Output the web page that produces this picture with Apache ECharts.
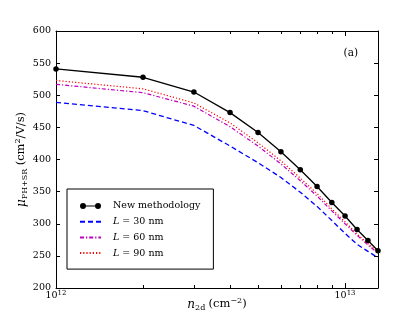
<!DOCTYPE html>
<html>
<head>
<meta charset="utf-8">
<script src="https://cdn.jsdelivr.net/npm/echarts@6/dist/echarts.min.js"></script>
<style>html,body{margin:0;padding:0;background:#fff}#c{width:415px;height:312px}</style>
</head>
<body>
<div id="c"></div>
<script>
// ---- data ----
const nValues = [1e12, 2e12, 3e12, 4e12, 5e12, 6e12, 7e12, 8e12, 9e12, 1e13, 1.1e13, 1.2e13, 1.3e13];
const newMethod = [541, 528, 505, 473, 442, 412, 384, 358, 333, 312, 291, 274, 258];
const L30 = [489, 476, 453, 421, 395, 372, 349, 327, 305, 285, 268, 257, 247];
const L60 = [517, 504, 483, 451, 421, 393, 367, 343, 320, 300, 282, 267, 254];
const L90 = [523, 510, 488, 457, 426, 398, 371, 347, 323, 303, 284, 269, 256];
const xMajorTicks = [1e12, 1e13];
const xMinorTicks = [2e12, 3e12, 4e12, 5e12, 6e12, 7e12, 8e12, 9e12];
const yTicks = [200, 250, 300, 350, 400, 450, 500, 550, 600];
const seriesNames = ['New methodology', 'L = 30 nm', 'L = 60 nm', 'L = 90 nm'];

const FONT = 'DejaVu Serif';
const pair = a => nValues.map((x, i) => [x, a[i]]);

const xBase = (pos, showLabel, ticks, len) => ({
  type: 'log', logBase: 10, min: 1e12, max: 1.3e13, position: pos,
  axisLine: { show: showLabel, lineStyle: { color: '#000', width: 1 } },
  axisTick: { show: true, inside: true, length: len, customValues: ticks, lineStyle: { color: '#000', width: 1 } },
  axisLabel: showLabel ? {
    show: true, customValues: xMajorTicks, margin: 2,
    formatter: v => '{b|10}{s|' + Math.round(Math.log10(v)) + '}',
    rich: {
      b: { fontFamily: FONT, fontSize: 9.5, color: '#000', lineHeight: 11 },
      s: { fontFamily: FONT, fontSize: 7, color: '#000', lineHeight: 6, verticalAlign: 'top' }
    }
  } : { show: false },
  splitLine: { show: false }, minorTick: { show: false }, minorSplitLine: { show: false }
});

const nameStyle = {
  rich: {
    i: { fontFamily: FONT, fontStyle: 'italic', fontSize: 12, lineHeight: 15, color: '#000' },
    n: { fontFamily: FONT, fontSize: 11.5, lineHeight: 15, color: '#000' },
    sub: { fontFamily: FONT, fontSize: 8, lineHeight: 7, verticalAlign: 'bottom', color: '#000' },
    sup: { fontFamily: FONT, fontSize: 8, lineHeight: 7, verticalAlign: 'top', color: '#000' }
  }
};

const x0 = xBase('bottom', true, [1e13], 5);
x0.name = '{i|n}{sub|2d} {n|(cm}{sup|−2}{n|)}';
x0.nameLocation = 'middle';
x0.nameGap = 9;
x0.nameMoveOverlap = false;
x0.nameTextStyle = nameStyle;

const yBase = (pos, showLabel) => ({
  type: 'value', min: 200, max: 600, interval: 50, position: pos,
  axisLine: { show: true, onZero: false, lineStyle: { color: '#000', width: 1 } },
  axisTick: { show: true, inside: true, length: 4, customValues: yTicks, lineStyle: { color: '#000', width: 1 } },
  axisLabel: { show: showLabel, customValues: yTicks, margin: 5, fontFamily: FONT, fontSize: 9.5, color: '#000' },
  splitLine: { show: false }
});

const y0 = yBase('left', true);
y0.name = '{i|μ}{sub|PH+SR} {n|(cm}{sup|2}{n|/V/s)}';
y0.nameLocation = 'middle';
y0.nameRotate = 90;
y0.nameGap = 27;
y0.nameMoveOverlap = false;
y0.nameTextStyle = nameStyle;

const lineSeries = (name, data, color, type, width) => ({
  name, type: 'line', data: pair(data), xAxisIndex: 0, yAxisIndex: 0,
  symbol: 'none', smooth: false,
  lineStyle: { color, width, type },
  itemStyle: { color },
  emphasis: { disabled: true }, animation: false
});

const option = {
  animation: false,
  backgroundColor: '#fff',
  grid: { left: 56, right: 37, top: 31, bottom: 24, containLabel: false, outerBoundsMode: 'none' },
  title: {
    text: '(a)', right: 52, top: 43,
    textStyle: { fontFamily: FONT, fontSize: 10.5, fontWeight: 'normal', color: '#000' }
  },
  legend: {
    orient: 'vertical', left: 67, top: 189,
    padding: [12, 13, 11, 12],
    backgroundColor: '#fff', borderColor: '#000', borderWidth: 1, borderRadius: 0,
    itemWidth: 21, itemHeight: 10, itemGap: 5.7,
    symbolKeepAspect: true,
    data: [
      { name: seriesNames[0], icon: 'path://M0,3A3,3,0,1,1,6,3A3,3,0,1,1,0,3ZM15,3A3,3,0,1,1,21,3A3,3,0,1,1,15,3ZM3,2.4H18V3.6H3Z' },
      { name: seriesNames[1], itemStyle: { opacity: 0 } },
      { name: seriesNames[2], itemStyle: { opacity: 0 } },
      { name: seriesNames[3], itemStyle: { opacity: 0 } }
    ],
    formatter: name => name.indexOf('L = ') === 0 ? '{i|L}{n|' + name.slice(1) + '}' : '{n|' + name + '}',
    textStyle: {
      fontFamily: FONT, fontSize: 9.5, color: '#000', lineHeight: 10, padding: [0, 0, 0, 7],
      rich: {
        i: { fontFamily: FONT, fontStyle: 'italic', fontSize: 9.5, lineHeight: 10, color: '#000' },
        n: { fontFamily: FONT, fontSize: 9.5, lineHeight: 10, color: '#000' }
      }
    }
  },
  xAxis: [
    x0,
    xBase('bottom', false, xMinorTicks, 3),
    xBase('top', false, [1e13], 5),
    xBase('top', false, xMinorTicks, 3)
  ],
  yAxis: [y0, yBase('right', false)],
  series: [
    lineSeries(seriesNames[1], L30, '#0000ff', [5, 3], 1.3),
    lineSeries(seriesNames[2], L60, '#bf00bf', [4, 2, 1.2, 2], 1.2),
    lineSeries(seriesNames[3], L90, '#ff0000', [1.2, 2], 1.2),
    {
      name: seriesNames[0], type: 'line', data: pair(newMethod), xAxisIndex: 0, yAxisIndex: 0,
      symbol: 'circle', symbolSize: 5.5, showSymbol: true,
      lineStyle: { color: '#000', width: 1.3 }, itemStyle: { color: '#000' },
      emphasis: { disabled: true }, z: 5, animation: false
    }
  ]
};
option.xAxis[2].axisLine = { show: true, lineStyle: { color: '#000', width: 1 } };
const chart = echarts.init(document.getElementById('c'), null, { renderer: 'canvas' });
chart.setOption(option);
</script>
</body>
</html>
